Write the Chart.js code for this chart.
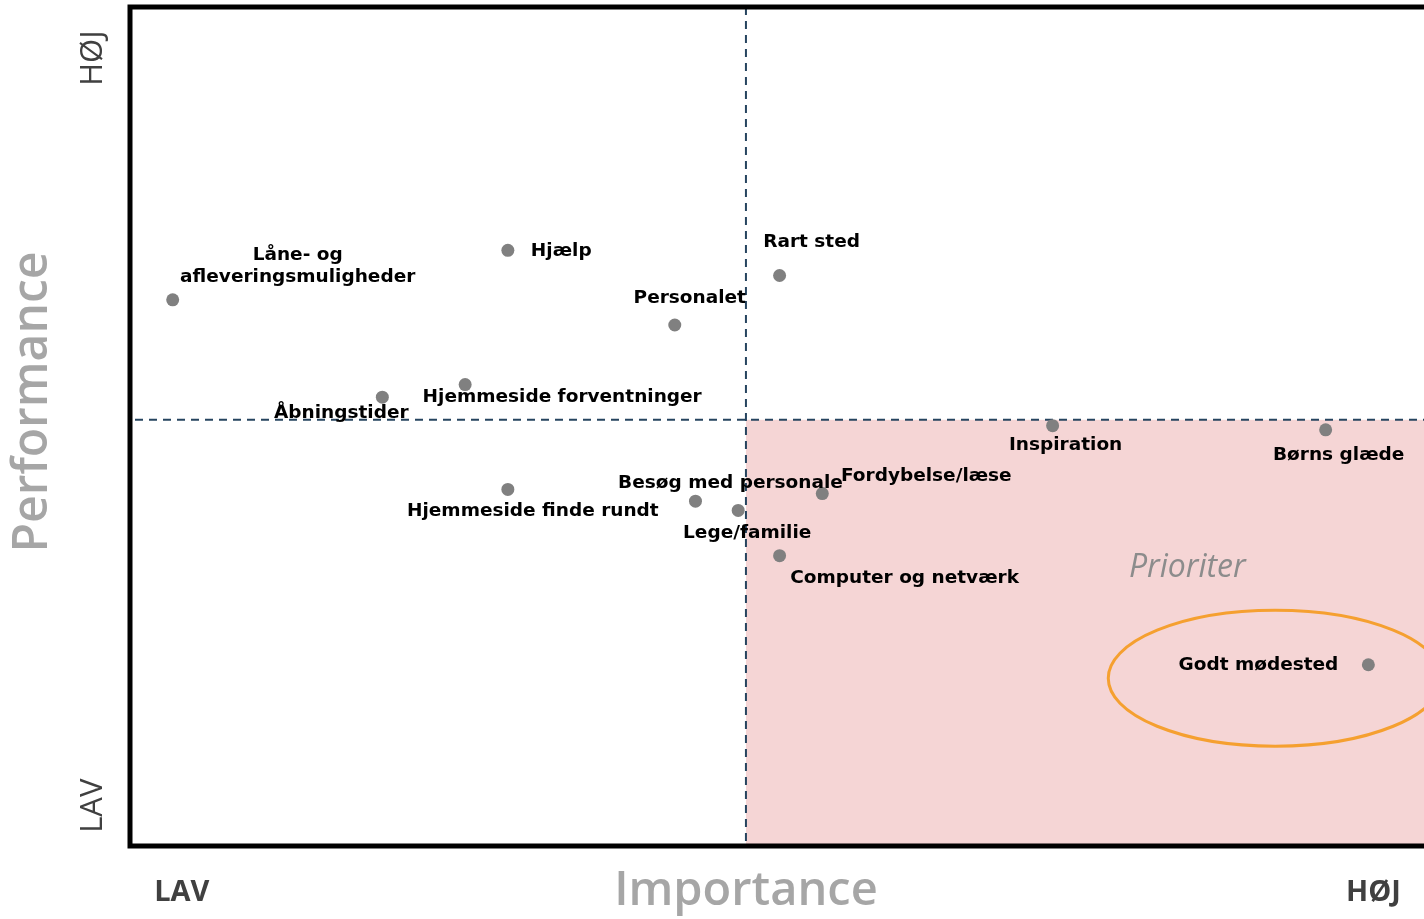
<!DOCTYPE html>
<html>
<head>
<meta charset="utf-8">
<script src="https://cdn.jsdelivr.net/npm/chart.js@4"></script>
<style>body{margin:0;background:#fff}</style>
</head>
<body>
<canvas id="myChart" width="1424" height="919"></canvas>
<script>
const categories = ['Låne- og\nafleveringsmuligheder', 'Hjælp', 'Rart sted', 'Personalet', 'Åbningstider',
  'Hjemmeside forventninger', 'Hjemmeside finde rundt', 'Besøg med personale', 'Lege/familie',
  'Fordybelse/læse', 'Computer og netværk', 'Inspiration', 'Børns glæde', 'Godt mødested'];
const importance = [3.3, 29.2, 50.2, 42.1, 19.5, 25.9, 29.2, 43.7, 47.0, 53.5, 50.2, 71.3, 92.4, 95.7];
const performance = [65.1, 71.0, 68.0, 62.1, 53.5, 55.0, 42.5, 41.1, 40.0, 42.0, 34.6, 50.1, 49.6, 21.6];
const axisTicks = ['LAV', 'HØJ'];
const importanceCut = 47.6;
const performanceCut = 50.8;

// where each label sits relative to its point (px)
const labelPlace = [
  ['center', 125, -45], ['left', 23, 1], ['center', 32, -33], ['center', 15, -27], ['center', -41, 16],
  ['center', 97, 13], ['center', 25, 22], ['center', 35, -18], ['center', 9, 23], ['center', 104, -17],
  ['center', 125, 22], ['center', 13, 20], ['center', 13, 25], ['right', -30, 0]
];

const quadrant = {
  id: 'quadrant',
  beforeDatasetsDraw(chart) {
    const {ctx, chartArea: a, scales: {x, y}} = chart;
    const cx = x.getPixelForValue(importanceCut), cy = y.getPixelForValue(performanceCut);
    ctx.save();
    ctx.fillStyle = '#f5d5d5';
    ctx.fillRect(cx, cy, a.right - cx, a.bottom - cy);
    ctx.strokeStyle = '#26445f';
    ctx.lineWidth = 2;
    ctx.setLineDash([8, 6]);
    ctx.beginPath();
    ctx.moveTo(a.left + 5, cy); ctx.lineTo(a.right, cy);
    ctx.moveTo(cx, a.top); ctx.lineTo(cx, a.bottom);
    ctx.stroke();
    ctx.setLineDash([]);
    ctx.fillStyle = '#8c8c8c';
    ctx.font = 'italic 32px "Open Sans"';
    ctx.textBaseline = 'middle';
    ctx.fillText('Prioriter', x.getPixelForValue(77.2), y.getPixelForValue(33.1));
    // ring round the top priority
    ctx.beginPath();
    ctx.rect(a.left, a.top, a.width, a.height);
    ctx.clip();
    ctx.strokeStyle = '#f5a030';
    ctx.lineWidth = 3;
    ctx.beginPath();
    ctx.ellipse(x.getPixelForValue(88.5), y.getPixelForValue(20.0),
      x.getPixelForValue(12.9) - x.getPixelForValue(0), y.getPixelForValue(0) - y.getPixelForValue(8.1), 0, 0, Math.PI * 2);
    ctx.stroke();
    ctx.restore();
  },
  afterDatasetsDraw(chart) {
    const {ctx, chartArea: a, scales: {x, y}} = chart;
    ctx.save();
    ctx.fillStyle = '#000';
    ctx.font = 'bold 18.5px "DejaVu Sans"';
    ctx.textBaseline = 'middle';
    categories.forEach((c, i) => {
      const [al, dx, dy] = labelPlace[i];
      const px = x.getPixelForValue(importance[i]) + dx, py = y.getPixelForValue(performance[i]) + dy;
      ctx.textAlign = al;
      c.split('\n').forEach((line, j) => ctx.fillText(line, px, py + j * 22));
    });
    // frame
    ctx.strokeStyle = '#000';
    ctx.lineWidth = 5;
    ctx.beginPath();
    ctx.moveTo(a.right + 5, a.top); ctx.lineTo(a.left, a.top);
    ctx.lineTo(a.left, a.bottom); ctx.lineTo(a.right + 5, a.bottom);
    ctx.stroke();
    // axis titles
    ctx.fillStyle = '#a6a6a6';
    ctx.font = '600 47px "Open Sans"';
    ctx.textAlign = 'center';
    ctx.fillText('Importance', x.getPixelForValue(importanceCut), 892);
    ctx.save();
    ctx.translate(33, 402); ctx.rotate(-Math.PI / 2);
    ctx.font = '600 48px "Open Sans"';
    ctx.fillText('Performance', 0, 0);
    ctx.restore();
    // LAV / HØJ ends
    ctx.fillStyle = '#404040';
    ctx.font = 'bold 29px "Open Sans"';
    ctx.fillText(axisTicks[0], x.getPixelForValue(4), 893);
    ctx.fillText(axisTicks[1], x.getPixelForValue(96.1), 893);
    ctx.font = '31px "Open Sans"';
    ctx.save();
    ctx.translate(93, y.getPixelForValue(4.8)); ctx.rotate(-Math.PI / 2);
    ctx.fillText(axisTicks[0], 0, 0);
    ctx.restore();
    ctx.save();
    ctx.translate(93, y.getPixelForValue(93.9)); ctx.rotate(-Math.PI / 2);
    ctx.fillText(axisTicks[1], 0, 0);
    ctx.restore();
    ctx.restore();
  }
};

new Chart(document.getElementById('myChart'), {
  type: 'scatter',
  data: {
    datasets: [{
      data: importance.map((v, i) => ({x: v, y: performance[i]})),
      backgroundColor: '#808080',
      borderWidth: 0,
      pointRadius: 6.5,
    }]
  },
  options: {
    responsive: false,
    animation: false,
    layout: {autoPadding: false, padding: {left: 130, top: 7, right: 0, bottom: 73}},
    plugins: {legend: {display: false}, tooltip: {enabled: false}},
    scales: {
      x: {display: false, min: 0, max: 100},
      y: {display: false, min: 0, max: 100}
    }
  },
  plugins: [quadrant]
});
</script>
</body>
</html>
